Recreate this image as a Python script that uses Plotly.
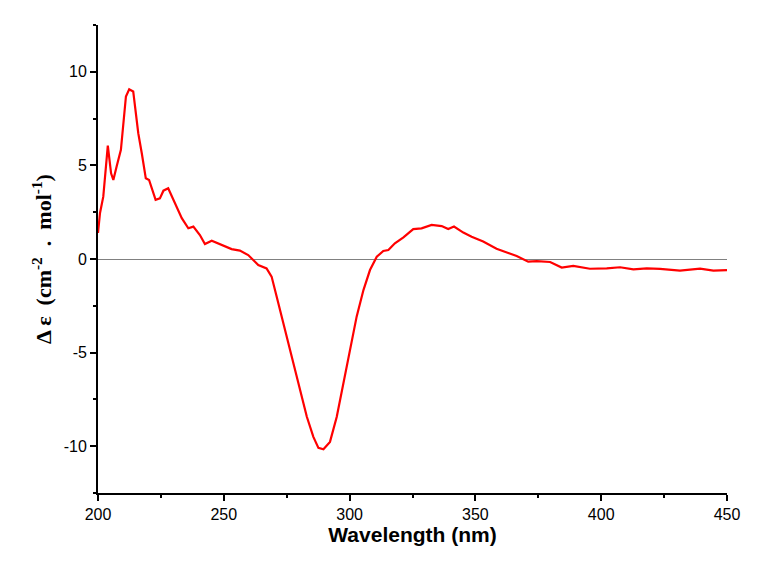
import plotly.graph_objects as go

wavelength = [200.0, 200.8, 202.1, 203.9, 205.2, 206.1, 207.4, 209.1, 211.1, 212.4, 214.0, 216.0,
              217.4, 219.0, 220.3, 222.9, 224.6, 226.0, 227.9, 229.9, 233.3, 235.9, 237.9, 240.5,
              242.5, 245.2, 247.8, 250.5, 253.1, 256.4, 259.7, 261.7, 263.7, 267.0, 269.0, 271.0,
              273.7, 277.0, 280.3, 283.0, 285.6, 287.6, 289.6, 292.2, 294.9, 297.5, 300.2, 302.8,
              305.5, 308.1, 310.8, 313.4, 315.4, 318.0, 321.4, 325.3, 328.6, 332.6, 336.6, 339.2,
              341.5, 345.2, 348.5, 353.1, 358.4, 363.7, 366.4, 371.0, 374.4, 379.7, 384.3, 388.9,
              395.5, 402.2, 407.5, 412.8, 418.1, 423.4, 431.3, 439.3, 444.6, 450.0]
delta_eps = [1.39, 2.46, 3.33, 6.06, 4.58, 4.22, 4.94, 5.83, 8.68, 9.07, 8.95, 6.72,
             5.65, 4.31, 4.22, 3.16, 3.24, 3.65, 3.78, 3.16, 2.18, 1.64, 1.73, 1.28,
             0.80, 0.98, 0.84, 0.66, 0.53, 0.45, 0.21, -0.05, -0.32, -0.50, -0.94, -2.0,
             -3.44, -5.22, -7.0, -8.43, -9.5, -10.09, -10.16, -9.77, -8.43, -6.65, -4.87, -3.08,
             -1.66, -0.59, 0.12, 0.43, 0.48, 0.84, 1.16, 1.60, 1.64, 1.82, 1.76, 1.60,
             1.73, 1.41, 1.19, 0.93, 0.55, 0.27, 0.16, -0.14, -0.11, -0.16, -0.46, -0.37,
             -0.52, -0.50, -0.44, -0.55, -0.50, -0.53, -0.62, -0.52, -0.62, -0.59]

x_ticks = [200, 250, 300, 350, 400, 450]
y_ticks = [-10, -5, 0, 5, 10]
y_tick_labels = ["-10", "-5", "0", "5", "10"]

fig = go.Figure()
fig.add_trace(go.Scatter(x=wavelength, y=delta_eps, mode="lines",
                         line=dict(color="#ff0000", width=2.2), showlegend=False))

fig.update_layout(
    width=766, height=576,
    margin=dict(l=90, r=47, t=17, b=91),
    paper_bgcolor="white", plot_bgcolor="white",
    font=dict(family="Liberation Sans, Arial", size=16, color="black"),
)
fig.update_xaxes(
    range=[200, 450], tickvals=x_ticks, showgrid=False, zeroline=False,
    showline=True, linecolor="black", linewidth=1.8,
    ticks="outside", ticklen=6, tickwidth=1.5, tickcolor="black",
    minor=dict(ticks="outside", ticklen=3, tickwidth=1.5, tickcolor="black", dtick=25, showgrid=False),
    tickfont=dict(size=16),
    title=dict(text="<b>Wavelength (nm)</b>", font=dict(family="Liberation Sans, Arial", size=21), standoff=2),
)
fig.update_yaxes(
    range=[-12.5, 12.5], tickvals=y_ticks, ticktext=y_tick_labels, showgrid=False,
    zeroline=True, zerolinecolor="#808080", zerolinewidth=1.2,
    showline=True, linecolor="black", linewidth=1.8,
    ticks="outside", ticklen=6, tickwidth=1.5, tickcolor="black",
    minor=dict(ticks="outside", ticklen=3, tickwidth=1.5, tickcolor="black", dtick=2.5, showgrid=False),
    tickfont=dict(size=16),
    title=dict(text="<b>Δ ε  (cm<sup>-2</sup>  .  mol<sup>-1</sup>)</b>",
               font=dict(family="Liberation Serif, Times New Roman", size=22), standoff=6),
)

fig.write_html("out.html")
